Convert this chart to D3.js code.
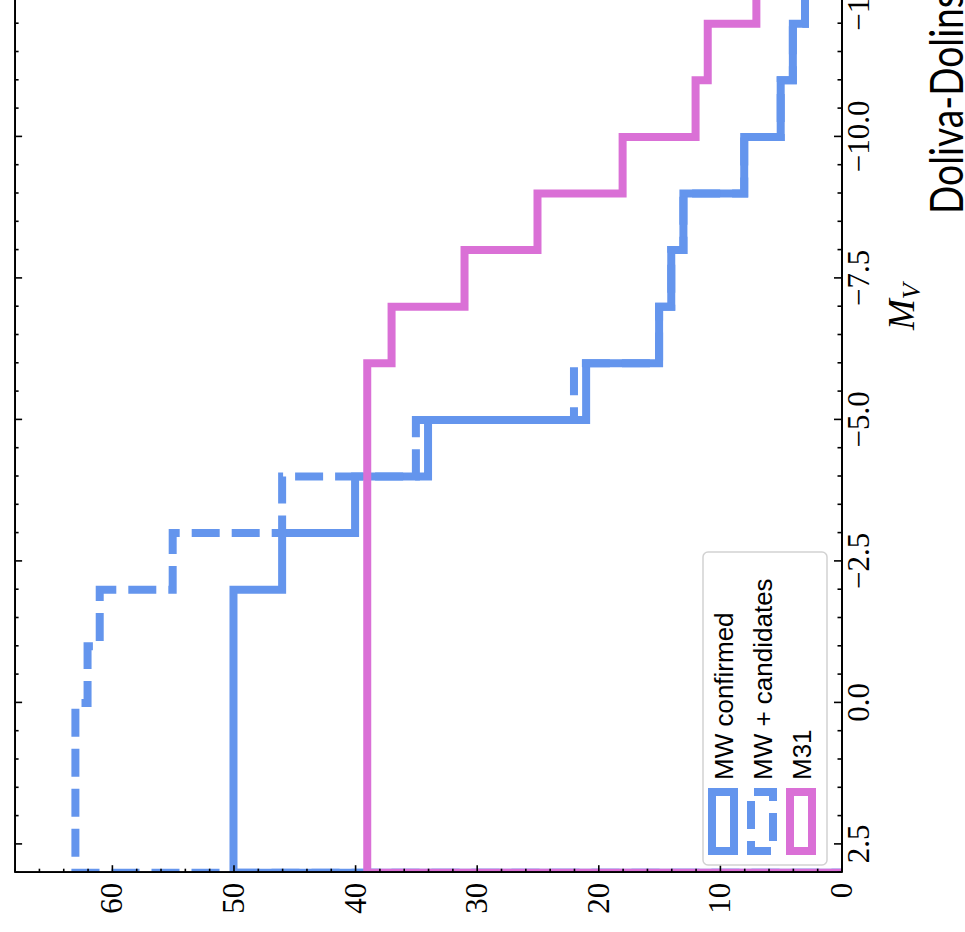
<!DOCTYPE html>
<html>
<head>
<meta charset="utf-8">
<script src="https://cdn.jsdelivr.net/npm/d3@7"></script>
<style>
  html, body { margin: 0; padding: 0; background: #ffffff; overflow: hidden; }
  svg { display: block; }
  .serif { font-family: "Liberation Serif", "Times New Roman", serif; }
</style>
</head>
<body>
<svg id="chart" width="965" height="932"></svg>
<script>
// Absolute-magnitude bin edges, faint end first
const binEdges = [3, 2, 1, 0, -1, -2, -3, -4, -5, -6, -7, -8, -9, -10, -11, -12, -13];
// Cumulative number of satellites in each bin
const mwConfirmed  = [50, 50, 50, 50, 50, 46, 40, 34, 21, 15, 14, 13, 8, 5, 4, 3];
const mwCandidates = [63, 63, 63, 62, 61, 55, 46, 35, 22, 15, 14, 13, 8, 5, 4, 3];
const m31          = [39, 39, 39, 39, 39, 39, 39, 39, 39, 37, 31, 25, 18, 12, 11, 7];
const seriesNames  = ["MW confirmed", "MW + candidates", "M31"];
const seriesColors = ["#6495ED", "#6495ED", "#DA70D6"];
const countTicks   = [0, 10, 20, 30, 40, 50, 60];
const mvTicks      = [2.5, 0, -2.5, -5, -7.5, -10, -12.5, -15];
const captionText  = "Doliva-Dolins";

// The figure is laid out landscape and turned a quarter turn counter-clockwise
const pageW = 965, pageH = 932;
const svg = d3.select("#chart");
svg.append("rect").attr("width", pageW).attr("height", pageH).attr("fill", "#fff");
const root = svg.append("g").attr("transform", `translate(0,${pageH}) rotate(-90)`);

// Plot frame in the unrotated layout (width = pageH, height = pageW)
const plotLeft = 59.3, plotTop = 14.6, plotBottom = 841.5;
const pxPerMag = 56.6;
const x = d3.scaleLinear().domain([3, -17]).range([plotLeft, plotLeft + 20 * pxPerMag]);
const y = d3.scaleLinear().domain([0, 68]).range([plotBottom, plotTop]);
const plotRight = x.range()[1];

// clip for the step lines
root.append("defs").append("clipPath").attr("id", "plotClip")
  .append("rect").attr("x", plotLeft).attr("y", plotTop)
  .attr("width", plotRight - plotLeft).attr("height", plotBottom - plotTop);

// ---- step histograms ----
function stepPoints(values) {
  const pts = [[binEdges[0], 0]];
  values.forEach((v, i) => { pts.push([binEdges[i], v]); pts.push([binEdges[i + 1], v]); });
  pts.push([binEdges[binEdges.length - 1], 0]);
  return pts;
}
const line = d3.line().x(d => x(d[0])).y(d => y(d[1]));
const plot = root.append("g").attr("clip-path", "url(#plotClip)");
const allSeries = [mwConfirmed, mwCandidates, m31];
allSeries.forEach((vals, i) => {
  plot.append("path")
    .attr("d", line(stepPoints(vals)))
    .attr("fill", "none")
    .attr("stroke", seriesColors[i])
    .attr("stroke-width", 8)
    .attr("stroke-linejoin", "miter")
    .attr("stroke-linecap", "butt")
    .attr("stroke-dasharray", i === 1 ? "28,12" : null)
    .attr("stroke-dashoffset", i === 1 ? 18 : null);
});

// ---- axes (ticks point inward on every side) ----
function styleAxis(g) {
  g.attr("font-family", null).attr("font-size", null);
  g.select(".domain").attr("stroke", "#000").attr("stroke-width", 1.8);
  g.selectAll(".tick line").attr("stroke", "#000").attr("stroke-width", 1.6);
  g.selectAll(".tick text")
    .attr("class", "serif")
    .attr("font-size", 31)
    .attr("fill", "#000");
}
const mvMinor = d3.range(3, -17.01, -0.5).filter(v => Math.abs(v / 2.5 - Math.round(v / 2.5)) > 1e-6);
const countMinor = d3.range(0, 68.01, 2).filter(v => v % 10 !== 0);

// magnitude axis
root.append("g").attr("transform", `translate(0,${plotBottom})`)
  .call(d3.axisBottom(x).tickValues(mvMinor).tickSize(-4).tickSizeOuter(0).tickFormat(""))
  .call(styleAxis);
root.append("g").attr("transform", `translate(0,${plotBottom})`)
  .call(d3.axisBottom(x).tickValues(mvTicks).tickSize(-7.5).tickSizeOuter(0).tickPadding(5)
        .tickFormat(d3.format(".1f")))
  .call(styleAxis);
root.append("g").attr("transform", `translate(0,${plotTop})`)
  .call(d3.axisTop(x).tickValues(mvMinor).tickSize(-4).tickSizeOuter(0).tickFormat(""))
  .call(styleAxis);
root.append("g").attr("transform", `translate(0,${plotTop})`)
  .call(d3.axisTop(x).tickValues(mvTicks).tickSize(-7.5).tickSizeOuter(0).tickFormat(""))
  .call(styleAxis);

// count axis
root.append("g").attr("transform", `translate(${plotLeft},0)`)
  .call(d3.axisLeft(y).tickValues(countMinor).tickSize(-4).tickSizeOuter(0).tickFormat(""))
  .call(styleAxis);
root.append("g").attr("transform", `translate(${plotLeft},0)`)
  .call(d3.axisLeft(y).tickValues(countTicks).tickSize(-7.5).tickSizeOuter(0).tickPadding(10)
        .tickFormat(d3.format("d")))
  .call(styleAxis);
root.append("g").attr("transform", `translate(${plotRight},0)`)
  .call(d3.axisRight(y).tickValues(countTicks).tickSize(-7.5).tickSizeOuter(0).tickFormat(""))
  .call(styleAxis);

// magnitude axis title
const title = root.append("text")
  .attr("class", "serif")
  .attr("x", (plotLeft + plotRight) / 2).attr("y", 914)
  .attr("text-anchor", "middle")
  .attr("font-style", "italic")
  .attr("font-size", 37).attr("fill", "#000");
title.append("tspan").text("M");
title.append("tspan").attr("font-size", 26).attr("dy", 6).text("V");

// ---- legend ----
const legend = root.append("g");
legend.append("rect")
  .attr("x", 67).attr("y", 703).attr("width", 313).attr("height", 124)
  .attr("rx", 5).attr("ry", 5)
  .attr("fill", "#fff").attr("fill-opacity", 0.8)
  .attr("stroke", "#d2d2d2").attr("stroke-width", 1.5);
seriesNames.forEach((name, i) => {
  const cy = 723 + 39 * i;
  legend.append("rect")
    .attr("x", 81).attr("y", cy - 11).attr("width", 59).attr("height", 22)
    .attr("fill", "none").attr("stroke", seriesColors[i]).attr("stroke-width", 8)
    .attr("stroke-linejoin", "miter")
    .attr("stroke-dasharray", i === 1 ? "28,12" : null)
    .attr("stroke-dashoffset", i === 1 ? 18 : null);
  legend.append("text")
    .attr("x", 152).attr("y", cy + 10)
    .style("font-family", "'Liberation Sans', Arial, sans-serif")
    .style("font-size", "26px").attr("fill", "#000")
    .text(name);
});

// ---- caption running along the side ----
root.append("text")
  .attr("x", 718).attr("y", 963)
  .style("font-family", "Lato, 'Open Sans', sans-serif")
  .style("font-size", "46px").attr("fill", "#000")
  .attr("textLength", 222).attr("lengthAdjust", "spacingAndGlyphs")
  .text(captionText);
</script>
</body>
</html>
